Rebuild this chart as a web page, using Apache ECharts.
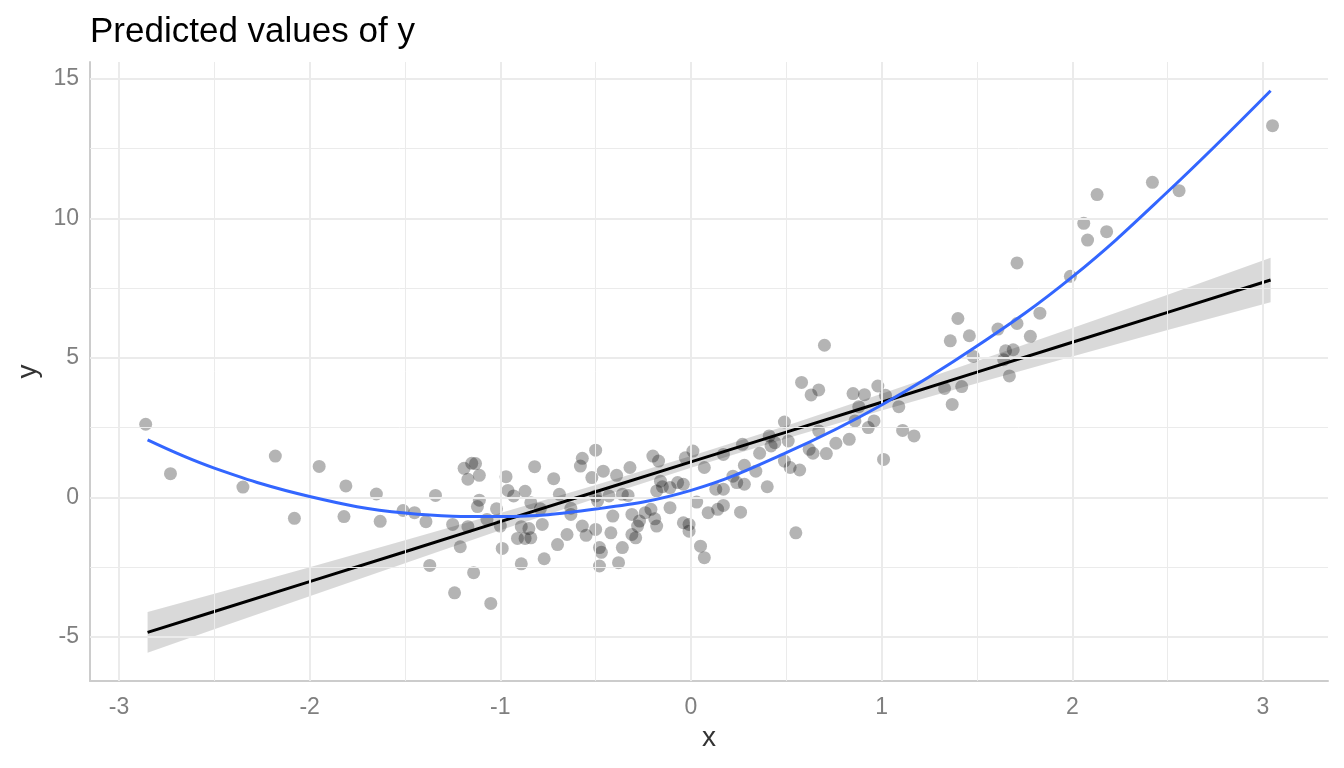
<!DOCTYPE html>
<html><head><meta charset="utf-8">
<script src="https://cdn.jsdelivr.net/npm/echarts@6/dist/echarts.min.js"></script>
<style>html,body{margin:0;padding:0;background:#fff}#c{width:1344px;height:768px}</style>
</head><body><div id="c"></div>
<script>
const titleText = 'Predicted values of y';
const xAxisTitle = 'x';
const yAxisTitle = 'y';
const xTicks = [-3, -2, -1, 0, 1, 2, 3];
const xMinorTicks = [-2.5, -1.5, -0.5, 0.5, 1.5, 2.5];
const yTicks = [-5, 0, 5, 10, 15];
const yMinorTicks = [-2.5, 2.5, 7.5, 12.5];

const pointX = [
 -2.86,-2.73,-2.18,-2.35,-2.08,-1.95,-1.81,-1.82,-1.65,-1.63,-1.51,-1.45,
 -1.34,-1.39,-1.37,-1.25,-1.24,-1.21,-1.19,-1.17,-1.15,-1.13,-1.11,-1.11,-1.12,-1.17,-1.14,-1.07,-1.05,-1.02,-1.00,-0.99,
 -0.97,-0.96,-0.93,-0.87,-0.82,-0.84,-0.89,-0.91,-0.87,-0.84,-0.85,-0.89,-0.79,-0.78,-0.77,-0.72,-0.69,-0.70,-0.65,-0.63,
 -0.63,-0.57,-0.58,-0.50,-0.57,-0.55,-0.50,-0.52,-0.50,-0.49,-0.48,-0.47,-0.48,-0.46,-0.42,
 -0.43,-0.39,-0.32,-0.36,-0.33,-0.41,-0.31,-0.27,-0.24,-0.19,-0.21,-0.18,-0.28,-0.31,-0.29,-0.36,-0.38,
 -0.20,-0.17,-0.16,-0.18,-0.15,-0.11,-0.11,-0.07,-0.04,0.01,-0.03,-0.04,-0.01,-0.01,0.03,0.07,0.05,0.07,0.09,0.14,0.17,
 0.13,0.17,0.17,0.22,0.24,0.26,0.27,0.28,0.28,0.34,0.36,0.40,0.42,0.44,0.49,0.49,
 0.70,0.58,0.63,0.67,0.41,0.51,0.52,0.57,0.55,0.62,0.64,0.67,0.71,0.76,0.83,0.85,0.88,0.86,0.91,0.93,0.96,0.98,1.02,1.01,
 1.09,1.11,1.17,1.33,1.42,1.37,1.36,1.46,1.48,
 1.40,1.61,1.71,1.83,1.78,1.65,1.69,1.64,1.67,1.71,
 3.05,2.42,2.56,2.13,2.06,2.18,2.08,1.99
];
const pointY = [
 2.62,0.85,1.48,0.37,-0.75,1.11,0.41,-0.69,0.12,-0.86,-0.47,-0.55,
 0.07,-0.87,-2.44,-0.97,-3.42,-1.77,1.04,0.65,1.22,1.21,0.79,-0.10,-0.33,-1.05,-2.70,-0.79,-3.80,-0.41,-1.03,-1.83,
 0.74,0.25,0.05,0.22,1.10,-0.19,-1.05,-1.47,-1.47,-1.45,-1.12,-2.38,-0.41,-0.97,-2.20,0.67,0.11,-1.69,-1.33,-0.39,
 -0.61,1.40,1.12,1.69,-1.03,-1.36,-1.15,0.71,0.05,-0.13,-1.80,-1.97,-2.46,0.94,-1.27,
 0.05,0.79,1.07,0.11,0.07,-0.67,-0.61,-0.85,-0.55,-0.77,-0.43,-1.03,-1.03,-1.33,-1.45,-1.80,-2.34,
 1.48,1.30,0.58,0.23,0.38,0.35,-0.37,0.53,0.47,1.66,1.42,-0.91,-0.97,-1.21,-0.17,1.07,-1.75,-2.16,-0.55,-0.43,-0.29,
 0.29,0.29,1.54,0.76,0.53,-0.53,1.90,1.15,0.47,0.94,1.58,0.38,1.84,1.96,1.30,2.70,
 5.45,4.12,3.67,3.85,2.20,2.02,1.07,0.98,-1.27,1.72,1.58,2.38,1.57,1.94,2.08,3.72,3.25,2.74,3.68,2.50,2.74,3.99,3.66,1.36,
 3.25,2.40,2.20,3.90,3.97,3.33,5.61,5.79,5.05,
 6.41,6.03,6.23,6.60,5.77,5.25,5.29,4.93,4.35,8.40,
 13.32,11.29,10.99,10.85,9.82,9.52,9.22,7.92
];

const fitX = [-2.85, -2.5, -2, -1.5, -1, -0.5, 0, 0.5, 1, 1.5, 2, 2.5, 3.04];
const linearFit = [-4.84, -4.09, -3.02, -1.95, -0.87, 0.20, 1.27, 2.34, 3.41, 4.49, 5.56, 6.63, 7.79];
const linearLow = [-5.57, -4.73, -3.54, -2.36, -1.18, -0.04, 1.06, 2.11, 3.11, 4.09, 5.05, 6.00, 6.99];
const linearHigh = [-4.11, -3.45, -2.50, -1.54, -0.56, 0.44, 1.48, 2.57, 3.71, 4.89, 6.07, 7.26, 8.59];
const curveFit = [2.06, 1.05, 0.03, -0.56, -0.69, -0.42, 0.25, 1.60, 3.31, 5.42, 7.90, 10.95, 14.57];

const FONT = '"Liberation Sans", Arial, Helvetica, sans-serif';
const chart = echarts.init(document.getElementById('c'), null, {renderer: 'canvas'});

function gridItems(vals, axis, width) {
  return vals.map(v => ({[axis]: v, lineStyle: {color: '#EBEBEB', width: width, type: 'solid'}}));
}
const isInt = v => Math.abs(v - Math.round(v)) < 1e-9;

chart.setOption({
  animation: false,
  backgroundColor: '#ffffff',
  title: {
    text: titleText, left: 90, top: 15, padding: 0,
    textStyle: {fontFamily: FONT, fontSize: 35, fontWeight: 'normal', color: '#000000'}
  },
  grid: {left: 90, right: 16, top: 62, bottom: 87, containLabel: false},
  xAxis: {
    type: 'value', min: -3.152, max: 3.341, splitNumber: 6,
    splitLine: {show: false}, axisTick: {show: false},
    axisLine: {show: true, onZero: false, lineStyle: {color: '#CCCCCC', width: 2}},
    axisLabel: {
      color: '#7F7F7F', fontFamily: FONT, fontSize: 23, margin: 15,
      formatter: v => (isInt(v) && xTicks.indexOf(Math.round(v)) >= 0) ? String(Math.round(v)) : ''
    },
    name: xAxisTitle, nameLocation: 'middle', nameGap: 35,
    nameTextStyle: {color: '#333333', fontFamily: FONT, fontSize: 28}
  },
  yAxis: {
    type: 'value', min: -6.58, max: 15.6, splitNumber: 5,
    splitLine: {show: false}, axisTick: {show: false},
    axisLine: {show: true, onZero: false, lineStyle: {color: '#CCCCCC', width: 2}},
    axisLabel: {
      color: '#7F7F7F', fontFamily: FONT, fontSize: 23, margin: 11,
      formatter: v => (isInt(v) && yTicks.indexOf(Math.round(v)) >= 0) ? String(Math.round(v)) : ''
    },
    name: yAxisTitle, nameLocation: 'middle', nameGap: 40, nameRotate: 90,
    nameTextStyle: {color: '#333333', fontFamily: FONT, fontSize: 28}
  },
  series: [
    {
      type: 'line', z: 1, silent: true, symbol: 'none',
      data: [[0, 0]], lineStyle: {opacity: 0},
      markLine: {
        silent: true, symbol: 'none', animation: false, label: {show: false},
        emphasis: {disabled: true},
        data: [].concat(
          gridItems(xMinorTicks, 'xAxis', 1),
          gridItems(yMinorTicks, 'yAxis', 1),
          gridItems(xTicks, 'xAxis', 2),
          gridItems(yTicks, 'yAxis', 2)
        )
      }
    },
    {
      type: 'custom', z: 2, silent: true,
      data: fitX.map((x, i) => [x, linearLow[i], linearHigh[i]]),
      encode: {x: 0, y: [1, 2]},
      renderItem: function (params, api) {
        if (params.dataIndex !== 0) return null;
        const pts = [];
        for (let i = 0; i < fitX.length; i++) pts.push(api.coord([fitX[i], linearHigh[i]]));
        for (let i = fitX.length - 1; i >= 0; i--) pts.push(api.coord([fitX[i], linearLow[i]]));
        return {type: 'polygon', shape: {points: pts}, style: {fill: 'rgba(0,0,0,0.15)'}};
      }
    },
    {
      type: 'scatter', z: 3, silent: true,
      data: pointX.map((x, i) => [x, pointY[i]]),
      symbolSize: 13,
      itemStyle: {color: 'rgba(0,0,0,0.37)'}
    },
    {
      type: 'line', z: 4, silent: true, symbol: 'none',
      data: fitX.map((x, i) => [x, linearFit[i]]),
      lineStyle: {color: '#000000', width: 3}
    },
    {
      type: 'line', z: 5, silent: true, symbol: 'none', smooth: 0.4,
      data: fitX.map((x, i) => [x, curveFit[i]]),
      lineStyle: {color: '#3366FF', width: 3}
    }
  ]
});
</script>
</body></html>
